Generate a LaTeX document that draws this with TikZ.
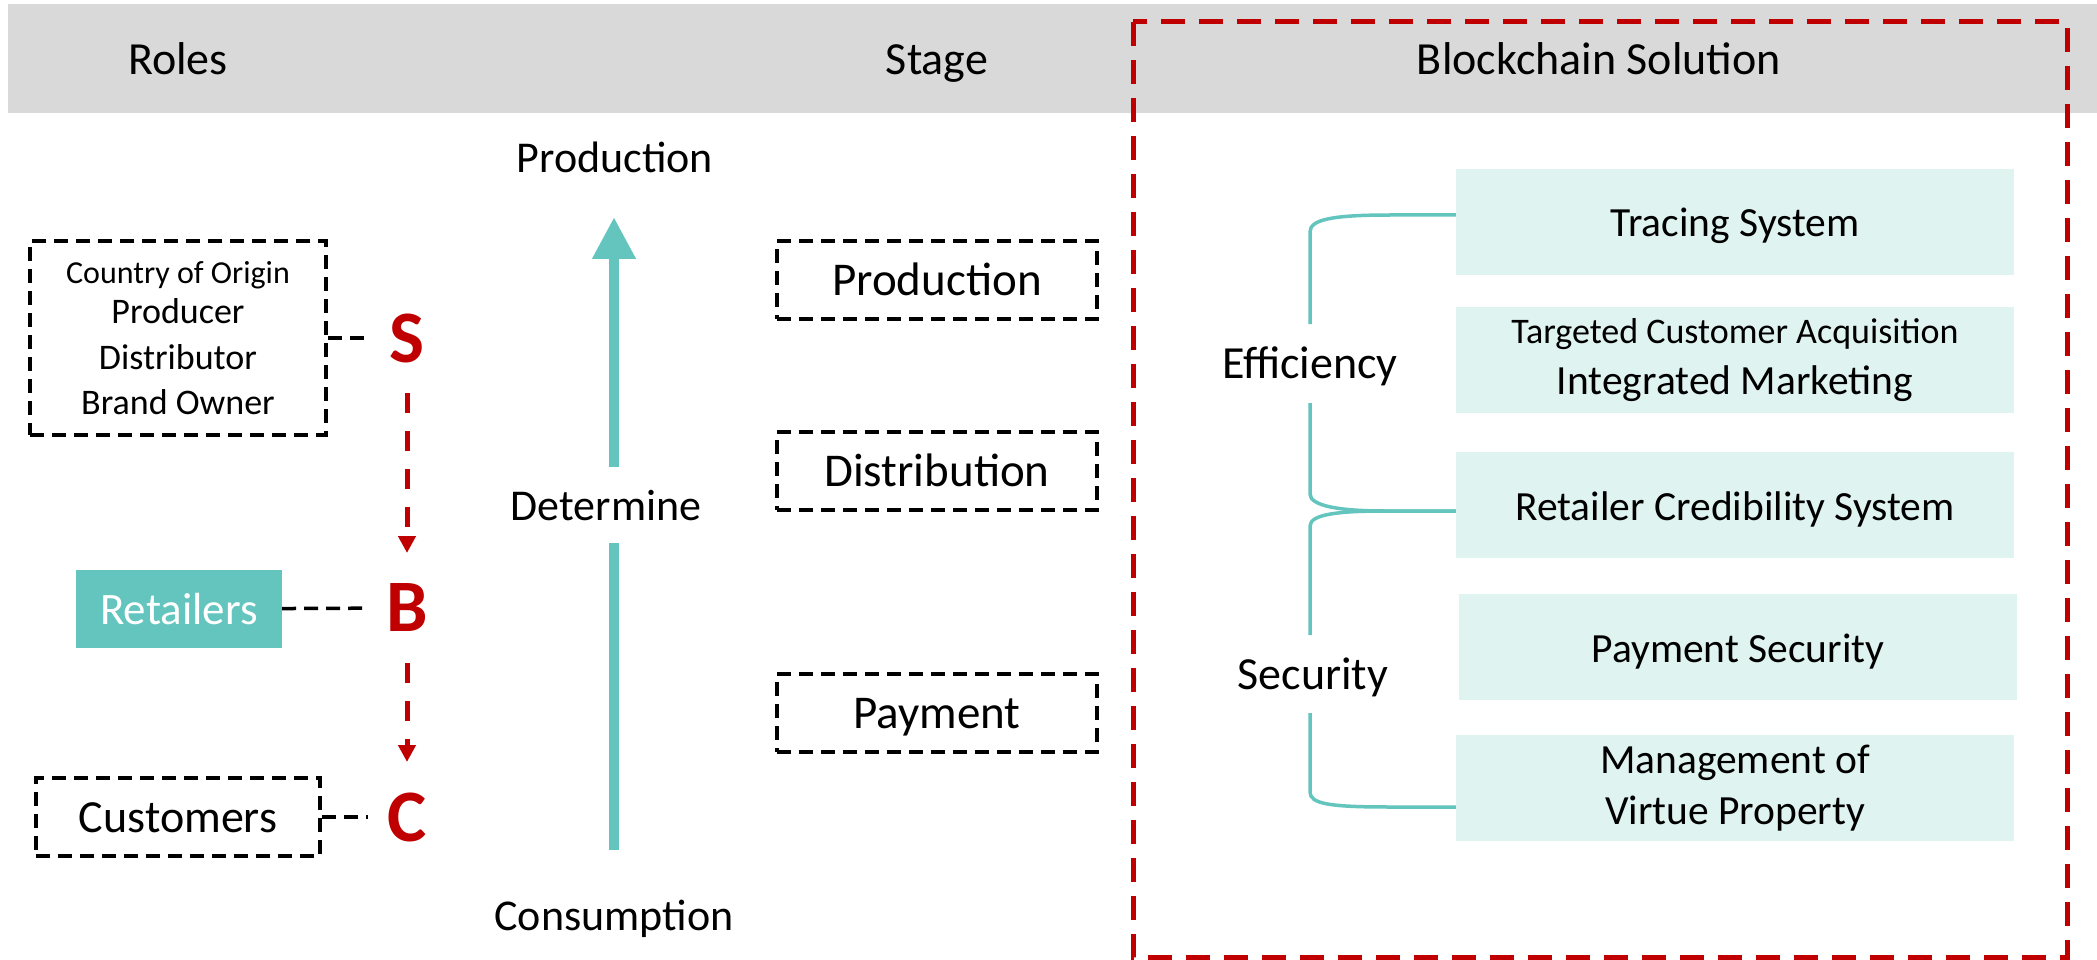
\documentclass[tikz,border=0pt]{standalone}
\usepackage{fontspec}
\setmainfont{Carlito}
\usetikzlibrary{arrows.meta}

\definecolor{tealmain}{RGB}{99,197,190}
\definecolor{tealpale}{RGB}{223,243,241}
\definecolor{darkred}{RGB}{192,0,0}
\definecolor{headgray}{RGB}{217,217,217}

\newcommand{\fsz}[2]{\fontsize{#1pt}{#2pt}\selectfont}

\tikzset{
    head/.style={font=\fsz{46}{55}, inner sep=0pt, anchor=base},
    plain/.style={font=\fsz{44}{53}, inner sep=0pt, anchor=base},
    oneline/.style={text height=30pt, text depth=0pt},
    dashbox/.style={draw=black, line width=3.5pt, dash pattern=on 14pt off 8pt,
        inner sep=0pt, align=center},
    stagebox/.style={dashbox, oneline, minimum width=320pt, minimum height=78pt, font=\fsz{47}{56}},
    solbox/.style={fill=tealpale, minimum width=558pt, minimum height=106pt,
        inner sep=0pt, align=center, font=\fsz{41.5}{51}},
    letter/.style={text=darkred, font=\bfseries\fsz{74}{88}, minimum width=78pt, inner sep=0pt},
    link/.style={draw=black, line width=3.5pt, dash pattern=on 14pt off 8pt},
    redflow/.style={draw=darkred, line width=5pt, dash pattern=on 20pt off 18pt,
        -{Triangle[width=17pt,length=17pt]}, shorten <=55pt, shorten >=55pt},
    flow/.style={draw=tealmain, line width=10.5pt},
    brace/.style={draw=tealmain, line width=3.5pt},
    frame/.style={draw=darkred, line width=5pt, dash pattern=on 24pt off 14pt}
}

\begin{document}
\begin{tikzpicture}[x=1pt,y=-1pt]
    \useasboundingbox (0,0) rectangle (2097,960);
    % header band
    \fill[headgray] (8,4) rectangle (2097,113);
    \node[head] (roles) at (178,75) {Roles};
    \node[head] (stage) at (937,75) {Stage};
    \node[head] (solution) at (1599,75) {Blockchain Solution};
    \draw[frame] (1133,22) rectangle (2067,957);

    % roles
    \node[dashbox, minimum width=296pt, minimum height=194pt, font=\fsz{36}{45.5}] (origin) at (178,338)
        {{\fsz{32}{45}Country of Origin}\\[-5pt]Producer\\Distributor\\Brand Owner};
    \node[fill=tealmain, text=white, oneline, minimum width=206pt, minimum height=78pt,
        inner sep=0pt, font=\fsz{45}{54}] (retailers) at (179,609) {Retailers};
    \node[dashbox, oneline, minimum width=284pt, minimum height=78pt, font=\fsz{46}{55}] (customers) at (178,817) {Customers};
    \node[letter] (S) at (407,338) {S};
    \node[letter] (B) at (407,608) {B};
    \node[letter] (C) at (407,817) {C};
    \draw[link] (origin.east) -- (S);
    \draw[link] (retailers) -- (B);
    \draw[link] (customers) -- (C);
    \draw[redflow] (S.center) -- (B.center);
    \draw[redflow] (B.center) -- (C.center);

    % production <-> consumption
    \node[plain] (prodtop) at (615,173) {Production};
    \node[plain] (determine) at (606,520) {Determine};
    \node[plain] (consumption) at (614,930) {Consumption};
    \coordinate (flowtop) at (614,217);
    \coordinate (flowbot) at (614,850);
    \coordinate (gaptop) at (614,467);
    \coordinate (gapbot) at (614,543);
    \draw[flow] (flowbot) -- (gapbot);
    \draw[flow, -{Triangle[width=41pt,length=42pt]}] (gaptop) -- (flowtop);

    % stages
    \foreach \name/\txt/\y in {sprod/Production/280, sdist/Distribution/471, spay/Payment/713}
        \node[stagebox] (\name) at (937,\y) {\txt};

    % blockchain solution
    \node[solbox, oneline] (tracing) at (1735,222) {Tracing System};
    \node[solbox] (targeted) at (1735,360) {{\fsz{36}{51}Targeted Customer Acquisition}\\Integrated Marketing};
    \node[solbox, oneline] (credibility) at (1735,505) {Retailer Credibility System};
    \node[solbox, oneline] (paysec) at (1738,647) {Payment Security};
    \node[solbox] (virtue) at (1735,788) {Management of\\Virtue Property};

    \node[plain, font=\fsz{46}{55}] (efficiency) at (1310,378) {Efficiency};
    \node[plain, font=\fsz{46}{55}] (security) at (1313,689) {Security};
    \coordinate (effup) at (1310,324);
    \coordinate (efflow) at (1310,403);
    \coordinate (secup) at (1310,635);
    \coordinate (seclow) at (1310,713);

    \draw[brace] (effup) -- (1310,232)
        .. controls (1310,220) and (1330,215) .. (1390,215) -- (tracing.west |- 0,215);
    \draw[brace] (efflow) -- (1310,494)
        .. controls (1310,506) and (1340,511) .. (1385,511) -- (credibility.west |- 0,511);
    \draw[brace] (credibility.west |- 0,511) -- (1385,511)
        .. controls (1340,511) and (1310,514) .. (1310,526) -- (secup);
    \draw[brace] (seclow) -- (1310,792)
        .. controls (1310,804) and (1330,807) .. (1390,807) -- (virtue.west |- 0,807);
\end{tikzpicture}
\end{document}
